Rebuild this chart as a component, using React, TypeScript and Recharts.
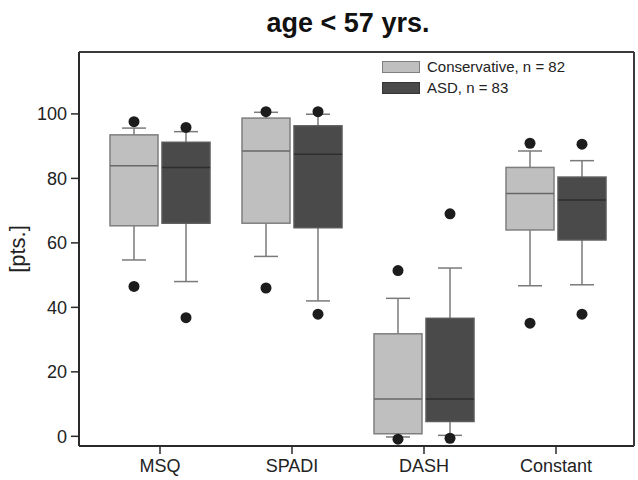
import React from 'react';
import { ComposedChart, Bar, XAxis, YAxis } from 'recharts';

const categories = ['MSQ', 'SPADI', 'DASH', 'Constant'];
const yTicks = [0, 20, 40, 60, 80, 100];
const seriesNames = ['Conservative, n = 82', 'ASD, n = 83'];

// Conservative group
const consLow = [54.7, 55.8, -0.2, 46.7];
const consQ1 = [65.3, 66.1, 0.8, 64.0];
const consMedian = [83.9, 88.5, 11.6, 75.3];
const consQ3 = [93.5, 98.7, 31.8, 83.4];
const consHigh = [95.6, 100.5, 42.8, 88.5];
const consOutLow = [46.5, 46.0, -0.9, 35.1];
const consOutHigh = [97.6, 100.7, 51.4, 90.9];

// ASD group
const asdLow = [48.0, 42.0, 0.3, 47.0];
const asdQ1 = [66.1, 64.7, 4.6, 60.9];
const asdMedian = [83.4, 87.5, 11.6, 73.3];
const asdQ3 = [91.2, 96.3, 36.6, 80.4];
const asdHigh = [94.5, 99.9, 52.2, 85.5];
const asdOutLow = [36.8, 37.9, -0.6, 37.9];
const asdOutHigh = [95.8, 100.7, 69.0, 90.6];

const data = categories.map((name, i) => ({
  name,
  cons: [consQ1[i], consQ3[i]],
  consQ1: consQ1[i], consQ3: consQ3[i], consLow: consLow[i], consHigh: consHigh[i],
  consMed: consMedian[i], consOut: [consOutLow[i], consOutHigh[i]],
  asd: [asdQ1[i], asdQ3[i]],
  asdQ1: asdQ1[i], asdQ3: asdQ3[i], asdLow: asdLow[i], asdHigh: asdHigh[i],
  asdMed: asdMedian[i], asdOut: [asdOutLow[i], asdOutHigh[i]],
}));

const font = '"Liberation Sans", Arial, Helvetica, sans-serif';

const makeBox = (key, fill, stroke, medianColor) => (props) => {
  const { x, y, width, height, payload } = props;
  if (!payload) return null;
  const top = Math.min(y, y + height);
  const bot = Math.max(y, y + height);
  const q1 = payload[key + 'Q1'];
  const q3 = payload[key + 'Q3'];
  // map a value through the bar's own scaled q1/q3 positions
  const py = (v) => bot - ((v - q1) / (q3 - q1)) * (bot - top);
  const cx = x + width / 2;
  const cap = width / 4;
  const whisker = '#7a7a7a';
  return (
    <g>
      <line x1={cx} x2={cx} y1={top} y2={py(payload[key + 'High'])} stroke={whisker} strokeWidth={1.5} />
      <line x1={cx} x2={cx} y1={bot} y2={py(payload[key + 'Low'])} stroke={whisker} strokeWidth={1.5} />
      <line x1={cx - cap} x2={cx + cap} y1={py(payload[key + 'High'])} y2={py(payload[key + 'High'])} stroke={whisker} strokeWidth={1.5} />
      <line x1={cx - cap} x2={cx + cap} y1={py(payload[key + 'Low'])} y2={py(payload[key + 'Low'])} stroke={whisker} strokeWidth={1.5} />
      <rect x={x} y={top} width={width} height={bot - top} fill={fill} stroke={stroke} strokeWidth={1.5} />
      <line x1={x} x2={x + width} y1={py(payload[key + 'Med'])} y2={py(payload[key + 'Med'])} stroke={medianColor} strokeWidth={1.5} />
      {payload[key + 'Out'].map((v, i) => (
        <circle key={i} cx={cx} cy={py(v)} r={5.5} fill="#1c1c1c" />
      ))}
    </g>
  );
};

const ConsBox = makeBox('cons', '#bfbfbf', '#7f7f7f', '#676767');
const AsdBox = makeBox('asd', '#4a4a4a', '#5a5a5a', '#2e2e2e');

const axisLine = { stroke: '#2a2a2a', strokeWidth: 2 };
const tickStyle = { fill: '#222', fontSize: 18, fontFamily: font };

const YLabel = ({ viewBox }) => {
  const yc = viewBox.y + viewBox.height / 2;
  return (
    <text x={25} y={yc} transform={`rotate(-90, 25, ${yc})`} textAnchor="middle"
      style={{ fontSize: 22, fontFamily: font, fill: '#222' }}>
      [pts.]
    </text>
  );
};

export default function App() {
  return (
    <div style={{ position: 'absolute', left: 0, top: 0, width: 638, height: 480, background: '#fff' }}>
      <div style={{ position: 'absolute', left: 238, top: 8, width: 220, textAlign: 'center', fontFamily: font, fontWeight: 'bold', fontSize: 27, lineHeight: '30px', color: '#111' }}>
        age &lt; 57 yrs.
      </div>
      <ComposedChart width={638} height={480} data={data}
        margin={{ top: 0, right: 0, bottom: 0, left: 0 }}
        barCategoryGap={16} barGap={4}>
        <XAxis dataKey="name" type="category" padding={{ left: 15, right: 12 }}
          height={34} tickSize={8} tickMargin={5} axisLine={axisLine}
          tickLine={{ stroke: '#2a2a2a', strokeWidth: 1.5 }} tick={tickStyle} interval={0} />
        <XAxis xAxisId="top" dataKey="name" orientation="top" height={52}
          padding={{ left: 15, right: 12 }} tick={false} tickLine={false}
          axisLine={{ stroke: '#3a3a3a', strokeWidth: 2 }} />
        <YAxis type="number" domain={[-3, 119.2]} allowDataOverflow ticks={yTicks}
          width={79} tickSize={8} tickMargin={4} axisLine={axisLine}
          tickLine={{ stroke: '#2a2a2a', strokeWidth: 1.5 }} tick={tickStyle}
          label={<YLabel />} />
        <YAxis yAxisId="right" orientation="right" type="number" domain={[-3, 119.2]}
          width={4} tick={false} tickLine={false}
          axisLine={{ stroke: '#3a3a3a', strokeWidth: 2 }} />
        <Bar dataKey="cons" name={seriesNames[0]} shape={ConsBox} isAnimationActive={false} />
        <Bar dataKey="asd" name={seriesNames[1]} shape={AsdBox} isAnimationActive={false} />
      </ComposedChart>
      <div style={{ position: 'absolute', left: 382, top: 61, fontFamily: font, fontSize: 15, color: '#222' }}>
        {seriesNames.map((n, i) => (
          <div key={n} style={{ display: 'flex', alignItems: 'center', height: 12, marginBottom: i === 0 ? 9 : 0 }}>
            <span style={{ display: 'inline-block', width: 36, height: 10, background: i === 0 ? '#bfbfbf' : '#4a4a4a', border: `1px solid ${i === 0 ? '#7f7f7f' : '#333'}`, marginRight: 7 }} />
            <span style={{ lineHeight: '12px', whiteSpace: 'nowrap' }}>{n}</span>
          </div>
        ))}
      </div>
    </div>
  );
}
